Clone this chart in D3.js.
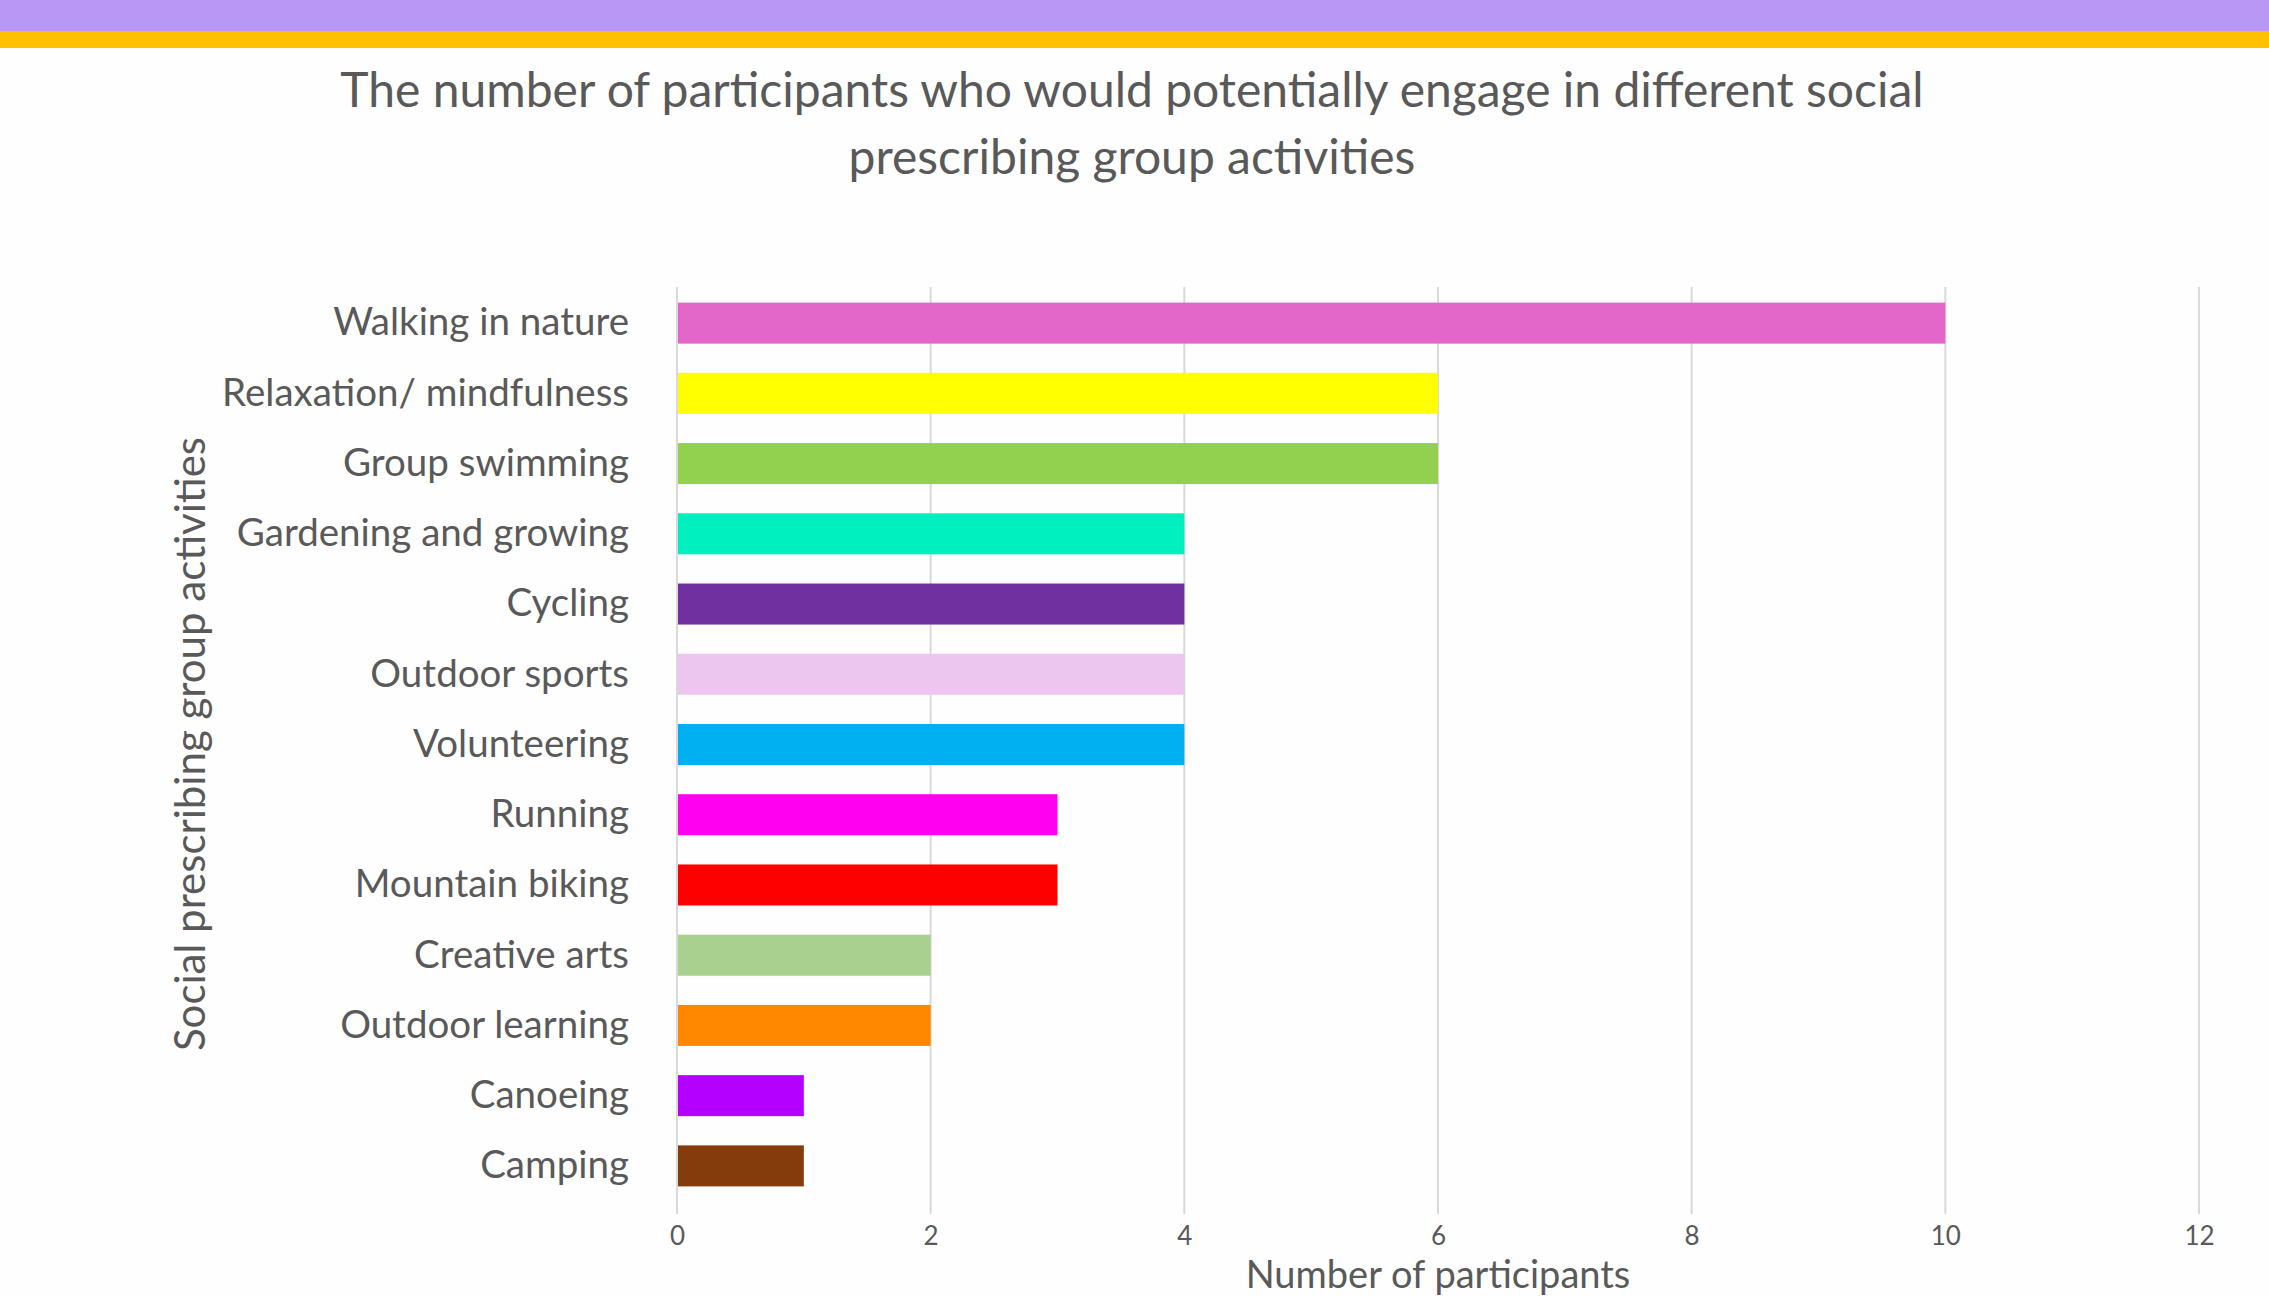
<!DOCTYPE html>
<html lang="en">
<head>
  <meta charset="utf-8">
  <title>Social prescribing group activities</title>
  <style>
  body { margin: 0; background: #fefefe; }
  svg { display: block; font-family: Lato, "Open Sans", sans-serif; }
  .axis path { display: none; }
  .axis text { fill: #595959; }
  .grid line { stroke: #d9d9d9; stroke-width: 2; }
  </style>
  <script src="https://cdn.jsdelivr.net/npm/d3@7"></script>
</head>
<body>
<svg width="2269" height="1296"></svg>
<script>
var categories = ["Walking in nature", "Relaxation/ mindfulness", "Group swimming", "Gardening and growing",
  "Cycling", "Outdoor sports", "Volunteering", "Running", "Mountain biking", "Creative arts",
  "Outdoor learning", "Canoeing", "Camping"];
var values = [10, 6, 6, 4, 4, 4, 4, 3, 3, 2, 2, 1, 1];
var colors = ["#e366c9", "#ffff00", "#92d050", "#00efbf", "#7030a0", "#ecc6ee", "#00b0f0",
  "#ff00f0", "#ff0000", "#a9d08e", "#ff8800", "#b400ff", "#843c0c"];
var xTicks = [0, 2, 4, 6, 8, 10, 12];

var svg = d3.select("svg");

// header bands
svg.append("rect").attr("x", 0).attr("y", 0).attr("width", 2269).attr("height", 31).attr("fill", "#b998f5");
svg.append("rect").attr("x", 0).attr("y", 31).attr("width", 2269).attr("height", 17).attr("fill", "#ffc000");

var x = d3.scaleLinear().domain([0, 12]).range([677, 2199]);
var y = d3.scaleBand().domain(categories).range([288, 1201])
    .paddingInner(0.416).paddingOuter(0.208);

var gridTop = 287, gridBottom = 1214;

svg.append("g").attr("class", "grid")
  .selectAll("line")
  .data(xTicks)
  .enter().append("line")
    .attr("x1", function(d) { return x(d); })
    .attr("x2", function(d) { return x(d); })
    .attr("y1", gridTop)
    .attr("y2", gridBottom);

svg.append("g")
  .selectAll("rect")
  .data(categories)
  .enter().append("rect")
    .attr("x", x(0) + 1)
    .attr("y", function(d) { return y(d); })
    .attr("width", function(d, i) { return x(values[i]) - x(0) - 1; })
    .attr("height", y.bandwidth())
    .attr("fill", function(d, i) { return colors[i]; });

svg.append("g")
    .attr("class", "axis")
    .attr("transform", "translate(0," + gridBottom + ")")
    .call(d3.axisBottom(x).tickValues(xTicks).tickSize(0).tickPadding(13).tickFormat(d3.format("d")))
    .selectAll("text")
      .style("font-size", "26px")
      .style("font-family", "Lato, sans-serif");

svg.append("g")
    .attr("class", "axis")
    .attr("transform", "translate(" + x(0) + ",0)")
    .call(d3.axisLeft(y).tickSize(0).tickPadding(48))
    .selectAll("text")
      .style("font-size", "38.5px")
      .style("font-family", "Lato, sans-serif");

svg.append("text")
    .attr("x", 1132)
    .attr("y", 107)
    .attr("text-anchor", "middle")
    .attr("fill", "#595959")
    .style("font-size", "48px")
    .text("The number of participants who would potentially engage in different social");

svg.append("text")
    .attr("x", 1132)
    .attr("y", 174)
    .attr("text-anchor", "middle")
    .attr("fill", "#595959")
    .style("font-size", "48px")
    .text("prescribing group activities");

svg.append("text")
    .attr("x", 1438)
    .attr("y", 1288)
    .attr("text-anchor", "middle")
    .attr("fill", "#595959")
    .style("font-size", "38px")
    .text("Number of participants");

svg.append("text")
    .attr("transform", "translate(205,744) rotate(-90)")
    .attr("text-anchor", "middle")
    .attr("fill", "#595959")
    .style("font-size", "42px")
    .text("Social prescribing group activities");
</script>
</body>
</html>
